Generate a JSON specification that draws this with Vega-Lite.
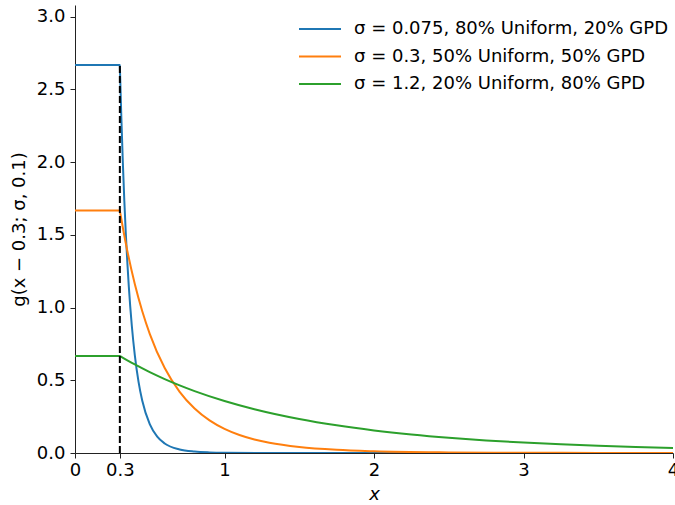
{
  "$schema": "https://vega.github.io/schema/vega-lite/v6.json",
  "width": 598,
  "height": 448,
  "autosize": {"type": "none"},
  "padding": {"left": 75, "top": 5, "right": 2, "bottom": 52},
  "background": "white",
  "config": {
    "font": "DejaVu Sans",
    "view": {"stroke": null},
    "axis": {
      "grid": false,
      "domainColor": "#222222",
      "tickColor": "#222222",
      "labelColor": "black",
      "titleColor": "black",
      "labelFontSize": 18,
      "titleFontSize": 18,
      "titleFontWeight": "normal",
      "tickSize": 5,
      "labelPadding": 4,
      "labelFont": "DejaVu Sans",
      "titleFont": "DejaVu Sans"
    },
    "legend": {
      "labelFont": "DejaVu Sans",
      "labelFontSize": 18,
      "labelColor": "black",
      "labelLimit": 0
    }
  },
  "datasets": {
    "curves": [
      {"s": "σ = 0.075, 80% Uniform, 20% GPD", "x": 0, "y": 2.6667},
      {"s": "σ = 0.075, 80% Uniform, 20% GPD", "x": 0.3, "y": 2.6667},
      {"s": "σ = 0.075, 80% Uniform, 20% GPD", "x": 0.301, "y": 2.6279},
      {"s": "σ = 0.075, 80% Uniform, 20% GPD", "x": 0.31, "y": 2.3051},
      {"s": "σ = 0.075, 80% Uniform, 20% GPD", "x": 0.32, "y": 1.9964},
      {"s": "σ = 0.075, 80% Uniform, 20% GPD", "x": 0.33, "y": 1.7322},
      {"s": "σ = 0.075, 80% Uniform, 20% GPD", "x": 0.34, "y": 1.5058},
      {"s": "σ = 0.075, 80% Uniform, 20% GPD", "x": 0.35, "y": 1.3112},
      {"s": "σ = 0.075, 80% Uniform, 20% GPD", "x": 0.36, "y": 1.1437},
      {"s": "σ = 0.075, 80% Uniform, 20% GPD", "x": 0.38, "y": 0.8746},
      {"s": "σ = 0.075, 80% Uniform, 20% GPD", "x": 0.4, "y": 0.673},
      {"s": "σ = 0.075, 80% Uniform, 20% GPD", "x": 0.425, "y": 0.4893},
      {"s": "σ = 0.075, 80% Uniform, 20% GPD", "x": 0.45, "y": 0.3588},
      {"s": "σ = 0.075, 80% Uniform, 20% GPD", "x": 0.5, "y": 0.198},
      {"s": "σ = 0.075, 80% Uniform, 20% GPD", "x": 0.55, "y": 0.1126},
      {"s": "σ = 0.075, 80% Uniform, 20% GPD", "x": 0.6, "y": 0.0658},
      {"s": "σ = 0.075, 80% Uniform, 20% GPD", "x": 0.7, "y": 0.0242},
      {"s": "σ = 0.075, 80% Uniform, 20% GPD", "x": 0.8, "y": 0.0097},
      {"s": "σ = 0.075, 80% Uniform, 20% GPD", "x": 0.9, "y": 0.0041},
      {"s": "σ = 0.075, 80% Uniform, 20% GPD", "x": 1.0, "y": 0.0019},
      {"s": "σ = 0.075, 80% Uniform, 20% GPD", "x": 1.3, "y": 0.0002},
      {"s": "σ = 0.075, 80% Uniform, 20% GPD", "x": 2.0, "y": 0},
      {"s": "σ = 0.075, 80% Uniform, 20% GPD", "x": 4.0, "y": 0},
      {"s": "σ = 0.3, 50% Uniform, 50% GPD", "x": 0, "y": 1.6667},
      {"s": "σ = 0.3, 50% Uniform, 50% GPD", "x": 0.3, "y": 1.6667},
      {"s": "σ = 0.3, 50% Uniform, 50% GPD", "x": 0.302, "y": 1.6545},
      {"s": "σ = 0.3, 50% Uniform, 50% GPD", "x": 0.325, "y": 1.5213},
      {"s": "σ = 0.3, 50% Uniform, 50% GPD", "x": 0.35, "y": 1.3896},
      {"s": "σ = 0.3, 50% Uniform, 50% GPD", "x": 0.4, "y": 1.1619},
      {"s": "σ = 0.3, 50% Uniform, 50% GPD", "x": 0.45, "y": 0.9745},
      {"s": "σ = 0.3, 50% Uniform, 50% GPD", "x": 0.5, "y": 0.8195},
      {"s": "σ = 0.3, 50% Uniform, 50% GPD", "x": 0.6, "y": 0.5842},
      {"s": "σ = 0.3, 50% Uniform, 50% GPD", "x": 0.7, "y": 0.4206},
      {"s": "σ = 0.3, 50% Uniform, 50% GPD", "x": 0.8, "y": 0.3058},
      {"s": "σ = 0.3, 50% Uniform, 50% GPD", "x": 0.9, "y": 0.2243},
      {"s": "σ = 0.3, 50% Uniform, 50% GPD", "x": 1.0, "y": 0.1659},
      {"s": "σ = 0.3, 50% Uniform, 50% GPD", "x": 1.1, "y": 0.1238},
      {"s": "σ = 0.3, 50% Uniform, 50% GPD", "x": 1.2, "y": 0.093},
      {"s": "σ = 0.3, 50% Uniform, 50% GPD", "x": 1.3, "y": 0.0704},
      {"s": "σ = 0.3, 50% Uniform, 50% GPD", "x": 1.5, "y": 0.0412},
      {"s": "σ = 0.3, 50% Uniform, 50% GPD", "x": 1.75, "y": 0.0218},
      {"s": "σ = 0.3, 50% Uniform, 50% GPD", "x": 2.0, "y": 0.0119},
      {"s": "σ = 0.3, 50% Uniform, 50% GPD", "x": 2.5, "y": 0.0039},
      {"s": "σ = 0.3, 50% Uniform, 50% GPD", "x": 3.0, "y": 0.0014},
      {"s": "σ = 0.3, 50% Uniform, 50% GPD", "x": 3.5, "y": 0.0006},
      {"s": "σ = 0.3, 50% Uniform, 50% GPD", "x": 4.0, "y": 0.0002},
      {"s": "σ = 1.2, 20% Uniform, 80% GPD", "x": 0, "y": 0.6667},
      {"s": "σ = 1.2, 20% Uniform, 80% GPD", "x": 0.3, "y": 0.6667},
      {"s": "σ = 1.2, 20% Uniform, 80% GPD", "x": 0.305, "y": 0.6636},
      {"s": "σ = 1.2, 20% Uniform, 80% GPD", "x": 0.35, "y": 0.6369},
      {"s": "σ = 1.2, 20% Uniform, 80% GPD", "x": 0.4, "y": 0.6085},
      {"s": "σ = 1.2, 20% Uniform, 80% GPD", "x": 0.5, "y": 0.5558},
      {"s": "σ = 1.2, 20% Uniform, 80% GPD", "x": 0.6, "y": 0.5081},
      {"s": "σ = 1.2, 20% Uniform, 80% GPD", "x": 0.7, "y": 0.4648},
      {"s": "σ = 1.2, 20% Uniform, 80% GPD", "x": 0.8, "y": 0.4255},
      {"s": "σ = 1.2, 20% Uniform, 80% GPD", "x": 1.0, "y": 0.3573},
      {"s": "σ = 1.2, 20% Uniform, 80% GPD", "x": 1.2, "y": 0.3009},
      {"s": "σ = 1.2, 20% Uniform, 80% GPD", "x": 1.5, "y": 0.2337},
      {"s": "σ = 1.2, 20% Uniform, 80% GPD", "x": 1.75, "y": 0.1901},
      {"s": "σ = 1.2, 20% Uniform, 80% GPD", "x": 2.0, "y": 0.1552},
      {"s": "σ = 1.2, 20% Uniform, 80% GPD", "x": 2.25, "y": 0.1272},
      {"s": "σ = 1.2, 20% Uniform, 80% GPD", "x": 2.5, "y": 0.1046},
      {"s": "σ = 1.2, 20% Uniform, 80% GPD", "x": 2.75, "y": 0.0864},
      {"s": "σ = 1.2, 20% Uniform, 80% GPD", "x": 3.0, "y": 0.0715},
      {"s": "σ = 1.2, 20% Uniform, 80% GPD", "x": 3.25, "y": 0.0594},
      {"s": "σ = 1.2, 20% Uniform, 80% GPD", "x": 3.5, "y": 0.0495},
      {"s": "σ = 1.2, 20% Uniform, 80% GPD", "x": 3.75, "y": 0.0414},
      {"s": "σ = 1.2, 20% Uniform, 80% GPD", "x": 4.0, "y": 0.0347}
    ],
    "threshold": [{"x": 0.3, "y": 0, "y2": 2.6667}]
  },
  "layer": [
    {
      "data": {"name": "curves"},
      "mark": {"type": "line", "strokeWidth": 2, "interpolate": "monotone", "clip": true},
      "encoding": {
        "x": {
          "field": "x", "type": "quantitative",
          "scale": {"domain": [0, 4], "nice": false, "zero": false},
          "axis": {"values": [0, 0.3, 1, 2, 3, 4], "format": "~g", "title": "x", "titleFontStyle": "italic", "labelPadding": 3, "titlePadding": 6, "labelFlush": false, "labelOverlap": false}
        },
        "y": {
          "field": "y", "type": "quantitative",
          "scale": {"domain": [0, 3.08], "nice": false, "zero": false},
          "axis": {"values": [0, 0.5, 1, 1.5, 2, 2.5, 3], "format": ".1f", "title": "g(x − 0.3; σ, 0.1)", "labelPadding": 5, "titlePadding": 8, "labelFlush": false}
        },
        "color": {
          "field": "s", "type": "nominal",
          "scale": {
            "domain": ["σ = 0.075, 80% Uniform, 20% GPD", "σ = 0.3, 50% Uniform, 50% GPD", "σ = 1.2, 20% Uniform, 80% GPD"],
            "range": ["#1f77b4", "#ff7f0e", "#2ca02c"]
          },
          "legend": {
            "title": null,
            "orient": "none",
            "legendX": 229,
            "legendY": 8,
            "symbolType": "M-1.4,0H1.4",
            "symbolSize": 900,
            "symbolStrokeWidth": 2,
            "labelOffset": 18,
            "rowPadding": 2.5,
            "padding": 0
          }
        }
      }
    },
    {
      "data": {"name": "threshold"},
      "mark": {"type": "rule", "color": "black", "strokeWidth": 2, "strokeDash": [7, 3]},
      "encoding": {
        "x": {"field": "x", "type": "quantitative"},
        "y": {"field": "y", "type": "quantitative"},
        "y2": {"field": "y2"}
      }
    }
  ]
}
